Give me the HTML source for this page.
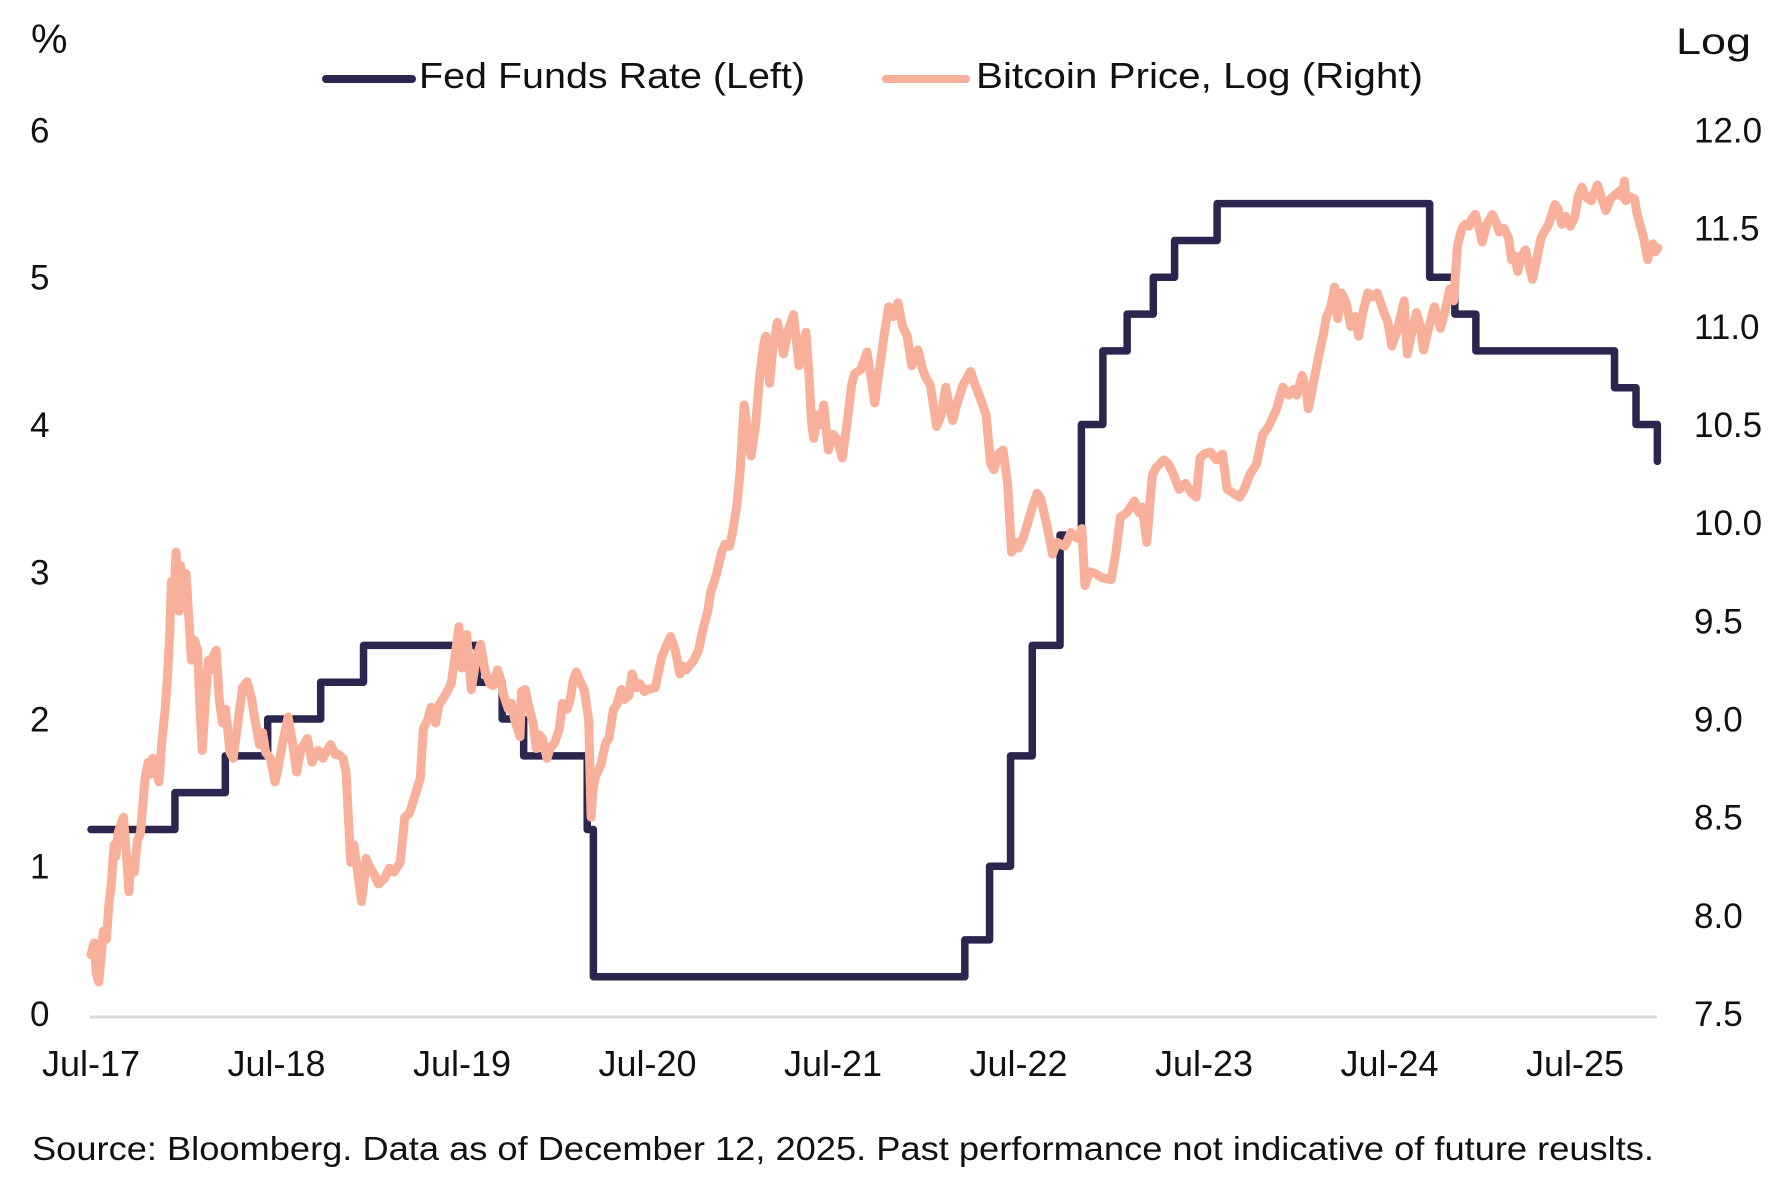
<!DOCTYPE html>
<html>
<head>
<meta charset="utf-8">
<style>
  html,body{margin:0;padding:0;background:#fff;}
  svg{display:block;}
  text{font-family:"Liberation Sans", Arial, sans-serif; fill:#111;}
</style>
</head>
<body>
<svg width="1782" height="1188" viewBox="0 0 1782 1188" xmlns="http://www.w3.org/2000/svg">
  <rect width="1782" height="1188" fill="#fff"/>

  <!-- Unit labels -->
  <text x="31" y="53" font-size="41">%</text>
  <text x="1676" y="54" font-size="37" textLength="75" lengthAdjust="spacingAndGlyphs">Log</text>

  <!-- Legend -->
  <line x1="326" y1="79" x2="412" y2="79" stroke="#2b2650" stroke-width="8" stroke-linecap="round"/>
  <text x="419" y="88" font-size="36" textLength="386" lengthAdjust="spacingAndGlyphs">Fed Funds Rate (Left)</text>
  <line x1="886" y1="79" x2="966" y2="79" stroke="#f8b09b" stroke-width="8" stroke-linecap="round"/>
  <text x="976" y="88" font-size="36" textLength="447" lengthAdjust="spacingAndGlyphs">Bitcoin Price, Log (Right)</text>

  <!-- Left axis labels -->
  <g font-size="35">
    <text x="30" y="1026">0</text>
    <text x="30" y="878.5">1</text>
    <text x="30" y="731.5">2</text>
    <text x="30" y="584.5">3</text>
    <text x="30" y="437">4</text>
    <text x="30" y="289.5">5</text>
    <text x="30" y="142.5">6</text>
  </g>

  <!-- Right axis labels -->
  <g font-size="35">
    <text x="1694" y="1026">7.5</text>
    <text x="1694" y="927.8">8.0</text>
    <text x="1694" y="829.7">8.5</text>
    <text x="1694" y="731.5">9.0</text>
    <text x="1694" y="633.3">9.5</text>
    <text x="1694" y="535.2">10.0</text>
    <text x="1694" y="437">10.5</text>
    <text x="1694" y="338.8">11.0</text>
    <text x="1694" y="240.7">11.5</text>
    <text x="1694" y="142.5">12.0</text>
  </g>

  <!-- X axis line -->
  <line x1="90" y1="1017" x2="1657" y2="1017" stroke="#d9d9d9" stroke-width="3"/>

  <!-- X labels -->
  <g font-size="36" text-anchor="middle">
    <text x="91" y="1076">Jul-17</text>
    <text x="276.5" y="1076">Jul-18</text>
    <text x="462" y="1076">Jul-19</text>
    <text x="647.5" y="1076">Jul-20</text>
    <text x="833" y="1076">Jul-21</text>
    <text x="1018.5" y="1076">Jul-22</text>
    <text x="1204" y="1076">Jul-23</text>
    <text x="1389.5" y="1076">Jul-24</text>
    <text x="1575" y="1076">Jul-25</text>
  </g>

  <!-- Fed Funds Rate (left axis) -->
  <g transform="matrix(15.458 0 0 -147.25 91 1013.5)">
    <path vector-effect="non-scaling-stroke" fill="none" stroke="#2b2650" stroke-width="7.5" stroke-linejoin="round" stroke-linecap="round"
      d="M0,1.25 H5.43 V1.5 H8.69 V1.75 H11.43 V2 H14.86 V2.25 H17.63 V2.5 H25.0 V2.25 H26.6 V2 H27.99 V1.75 H32.1 V1.25 H32.5 V0.25 H56.53 V0.5 H58.13 V1.0 H59.49 V1.75 H60.89 V2.5 H62.69 V3.25 H64.07 V4.0 H65.46 V4.5 H67.03 V4.75 H68.72 V5.0 H70.1 V5.25 H72.85 V5.5 H86.6 V5.0 H88.23 V4.75 H89.59 V4.5 H98.56 V4.25 H99.95 V4.0 H101.33 V3.75"/>
  </g>

  <!-- Bitcoin log price (right axis) -->
  <g transform="matrix(15.458 0 0 -196.33 91 2486)">
    <path vector-effect="non-scaling-stroke" fill="none" stroke="#f8b09b" stroke-width="9" stroke-linejoin="round" stroke-linecap="round"
      d="M0,7.80 L0.2,7.86 0.35,7.70 0.5,7.66 0.65,7.78 0.8,7.92 1.0,7.88 1.15,8.05 1.3,8.15 1.5,8.36 1.6,8.30 1.75,8.42 2.0,8.48 2.1,8.50 2.3,8.30 2.45,8.12 2.6,8.28 2.8,8.22 3.0,8.38 3.2,8.42 3.5,8.70 3.7,8.78 3.85,8.72 4.0,8.80 4.2,8.74 4.4,8.68 4.6,8.90 4.8,9.05 4.95,9.22 5.1,9.45 5.2,9.70 5.35,9.60 5.5,9.85 5.6,9.68 5.7,9.55 5.8,9.78 5.9,9.72 6.0,9.60 6.15,9.74 6.3,9.55 6.5,9.30 6.7,9.40 6.9,9.35 7.05,9.05 7.2,8.84 7.4,9.10 7.6,9.30 7.75,9.25 7.9,9.32 8.1,9.35 8.3,9.10 8.5,8.98 8.7,9.05 9.0,8.83 9.2,8.80 9.5,8.98 9.8,9.16 10.1,9.19 10.4,9.10 10.6,9.00 10.9,8.87 11.1,8.93 11.3,8.83 11.6,8.80 11.9,8.68 12.1,8.75 12.4,8.88 12.75,9.01 13.0,8.90 13.3,8.73 13.6,8.85 14.0,8.90 14.3,8.78 14.5,8.82 14.7,8.84 15.0,8.80 15.5,8.87 15.8,8.82 16.0,8.82 16.3,8.80 16.5,8.73 16.65,8.50 16.8,8.27 17.0,8.36 17.2,8.25 17.5,8.07 17.7,8.20 17.8,8.29 18.0,8.25 18.3,8.21 18.6,8.16 19.0,8.19 19.3,8.24 19.6,8.22 20.0,8.27 20.3,8.50 20.6,8.52 21.0,8.62 21.3,8.70 21.5,8.95 21.8,9.00 22.0,9.06 22.3,8.98 22.5,9.07 22.9,9.12 23.3,9.18 23.6,9.35 23.8,9.47 24.0,9.26 24.15,9.40 24.3,9.43 24.5,9.25 24.6,9.15 24.9,9.30 25.2,9.38 25.5,9.24 25.8,9.18 26.0,9.17 26.3,9.25 26.5,9.20 26.7,9.12 27.0,9.05 27.2,9.08 27.4,9.00 27.75,8.91 27.85,9.14 28.1,9.15 28.3,9.07 28.6,8.98 28.8,8.85 29.0,8.92 29.2,8.90 29.5,8.80 29.7,8.85 30.0,8.88 30.3,8.95 30.5,9.08 30.8,9.05 31.0,9.10 31.2,9.20 31.4,9.24 31.6,9.20 31.9,9.15 32.1,9.05 32.2,8.99 32.35,8.50 32.45,8.62 32.6,8.70 33.0,8.77 33.3,8.88 33.5,8.90 33.8,9.05 34.0,9.07 34.3,9.15 34.5,9.10 34.8,9.12 35.0,9.23 35.3,9.16 35.5,9.18 35.8,9.14 36.0,9.15 36.5,9.16 36.9,9.31 37.2,9.37 37.5,9.42 37.8,9.35 38.1,9.23 38.3,9.27 38.5,9.25 39.0,9.30 39.3,9.35 39.6,9.46 39.9,9.55 40.1,9.65 40.4,9.72 40.5,9.75 40.8,9.85 41.0,9.89 41.3,9.88 41.5,9.95 41.8,10.10 42.0,10.27 42.25,10.60 42.5,10.45 42.7,10.34 43.0,10.50 43.25,10.74 43.5,10.90 43.65,10.95 43.9,10.71 44.1,10.88 44.4,11.02 44.6,10.95 44.8,10.86 45.1,10.98 45.45,11.06 45.6,10.95 45.8,10.80 46.0,10.90 46.25,10.97 46.45,10.75 46.6,10.52 46.75,10.43 47.0,10.55 47.2,10.50 47.4,10.60 47.7,10.37 48.0,10.45 48.3,10.42 48.6,10.33 48.9,10.50 49.2,10.70 49.4,10.76 49.8,10.78 50.2,10.87 50.5,10.72 50.7,10.61 51.0,10.78 51.3,10.95 51.6,11.10 51.9,11.05 52.2,11.12 52.5,11.00 52.8,10.95 53.1,10.80 53.3,10.85 53.5,10.88 53.8,10.78 54.0,10.74 54.3,10.70 54.7,10.49 55.0,10.55 55.3,10.69 55.5,10.60 55.75,10.52 56.0,10.60 56.4,10.70 56.9,10.77 57.2,10.70 57.5,10.64 57.9,10.55 58.2,10.30 58.4,10.27 58.7,10.35 59.0,10.37 59.3,10.20 59.55,9.85 59.8,9.90 60.0,9.87 60.3,9.92 60.6,10.00 60.9,10.08 61.2,10.15 61.45,10.12 61.8,10.00 62.2,9.84 62.5,9.90 63.0,9.88 63.4,9.95 63.8,9.92 64.1,9.97 64.3,9.68 64.6,9.75 65.0,9.74 65.4,9.72 66.0,9.71 66.3,9.85 66.6,10.03 67.0,10.05 67.5,10.11 67.8,10.05 68.0,10.08 68.3,9.90 68.65,10.24 68.9,10.28 69.4,10.32 69.7,10.30 70.0,10.25 70.4,10.17 70.8,10.20 71.2,10.15 71.5,10.13 71.75,10.33 72.0,10.35 72.4,10.36 72.8,10.32 73.2,10.35 73.5,10.17 73.9,10.15 74.3,10.13 74.6,10.17 75.0,10.25 75.4,10.30 75.8,10.45 76.1,10.48 76.3,10.51 76.7,10.58 77.1,10.69 77.3,10.67 77.5,10.65 77.8,10.68 78.0,10.65 78.35,10.75 78.6,10.68 78.75,10.58 79.1,10.72 79.45,10.86 79.7,10.95 79.9,11.04 80.2,11.10 80.45,11.20 80.65,11.04 80.9,11.17 81.2,11.12 81.5,11.00 81.8,11.05 82.0,10.95 82.3,11.08 82.6,11.17 82.9,11.15 83.2,11.17 83.6,11.08 83.9,11.02 84.15,10.90 84.5,10.98 84.95,11.13 85.15,10.86 85.4,10.95 85.75,11.07 86.0,11.00 86.2,10.88 86.5,10.98 86.9,11.10 87.1,11.05 87.3,10.99 87.6,11.08 87.9,11.19 88.15,11.13 88.3,11.30 88.4,11.41 88.55,11.46 88.7,11.50 88.9,11.52 89.15,11.51 89.35,11.55 89.55,11.57 89.8,11.50 90.0,11.43 90.3,11.52 90.65,11.57 90.9,11.53 91.1,11.48 91.4,11.50 91.7,11.45 91.9,11.34 92.1,11.36 92.3,11.28 92.5,11.35 92.8,11.39 93.0,11.32 93.25,11.24 93.5,11.33 93.8,11.45 94.0,11.48 94.3,11.52 94.7,11.62 94.9,11.60 95.15,11.52 95.4,11.56 95.7,11.51 96.0,11.56 96.2,11.66 96.45,11.71 96.7,11.66 97.05,11.64 97.25,11.68 97.45,11.72 97.7,11.66 98.0,11.59 98.3,11.65 98.6,11.67 98.9,11.69 99.05,11.66 99.2,11.74 99.3,11.64 99.55,11.66 99.85,11.65 100.0,11.58 100.2,11.52 100.45,11.45 100.7,11.34 100.9,11.40 101.05,11.42 101.2,11.38 101.37,11.40"/>
  </g>

  <!-- Footer -->
  <text x="32" y="1160" font-size="33" textLength="1622" lengthAdjust="spacingAndGlyphs">Source: Bloomberg. Data as of December 12, 2025. Past performance not indicative of future reuslts.</text>
</svg>
</body>
</html>
